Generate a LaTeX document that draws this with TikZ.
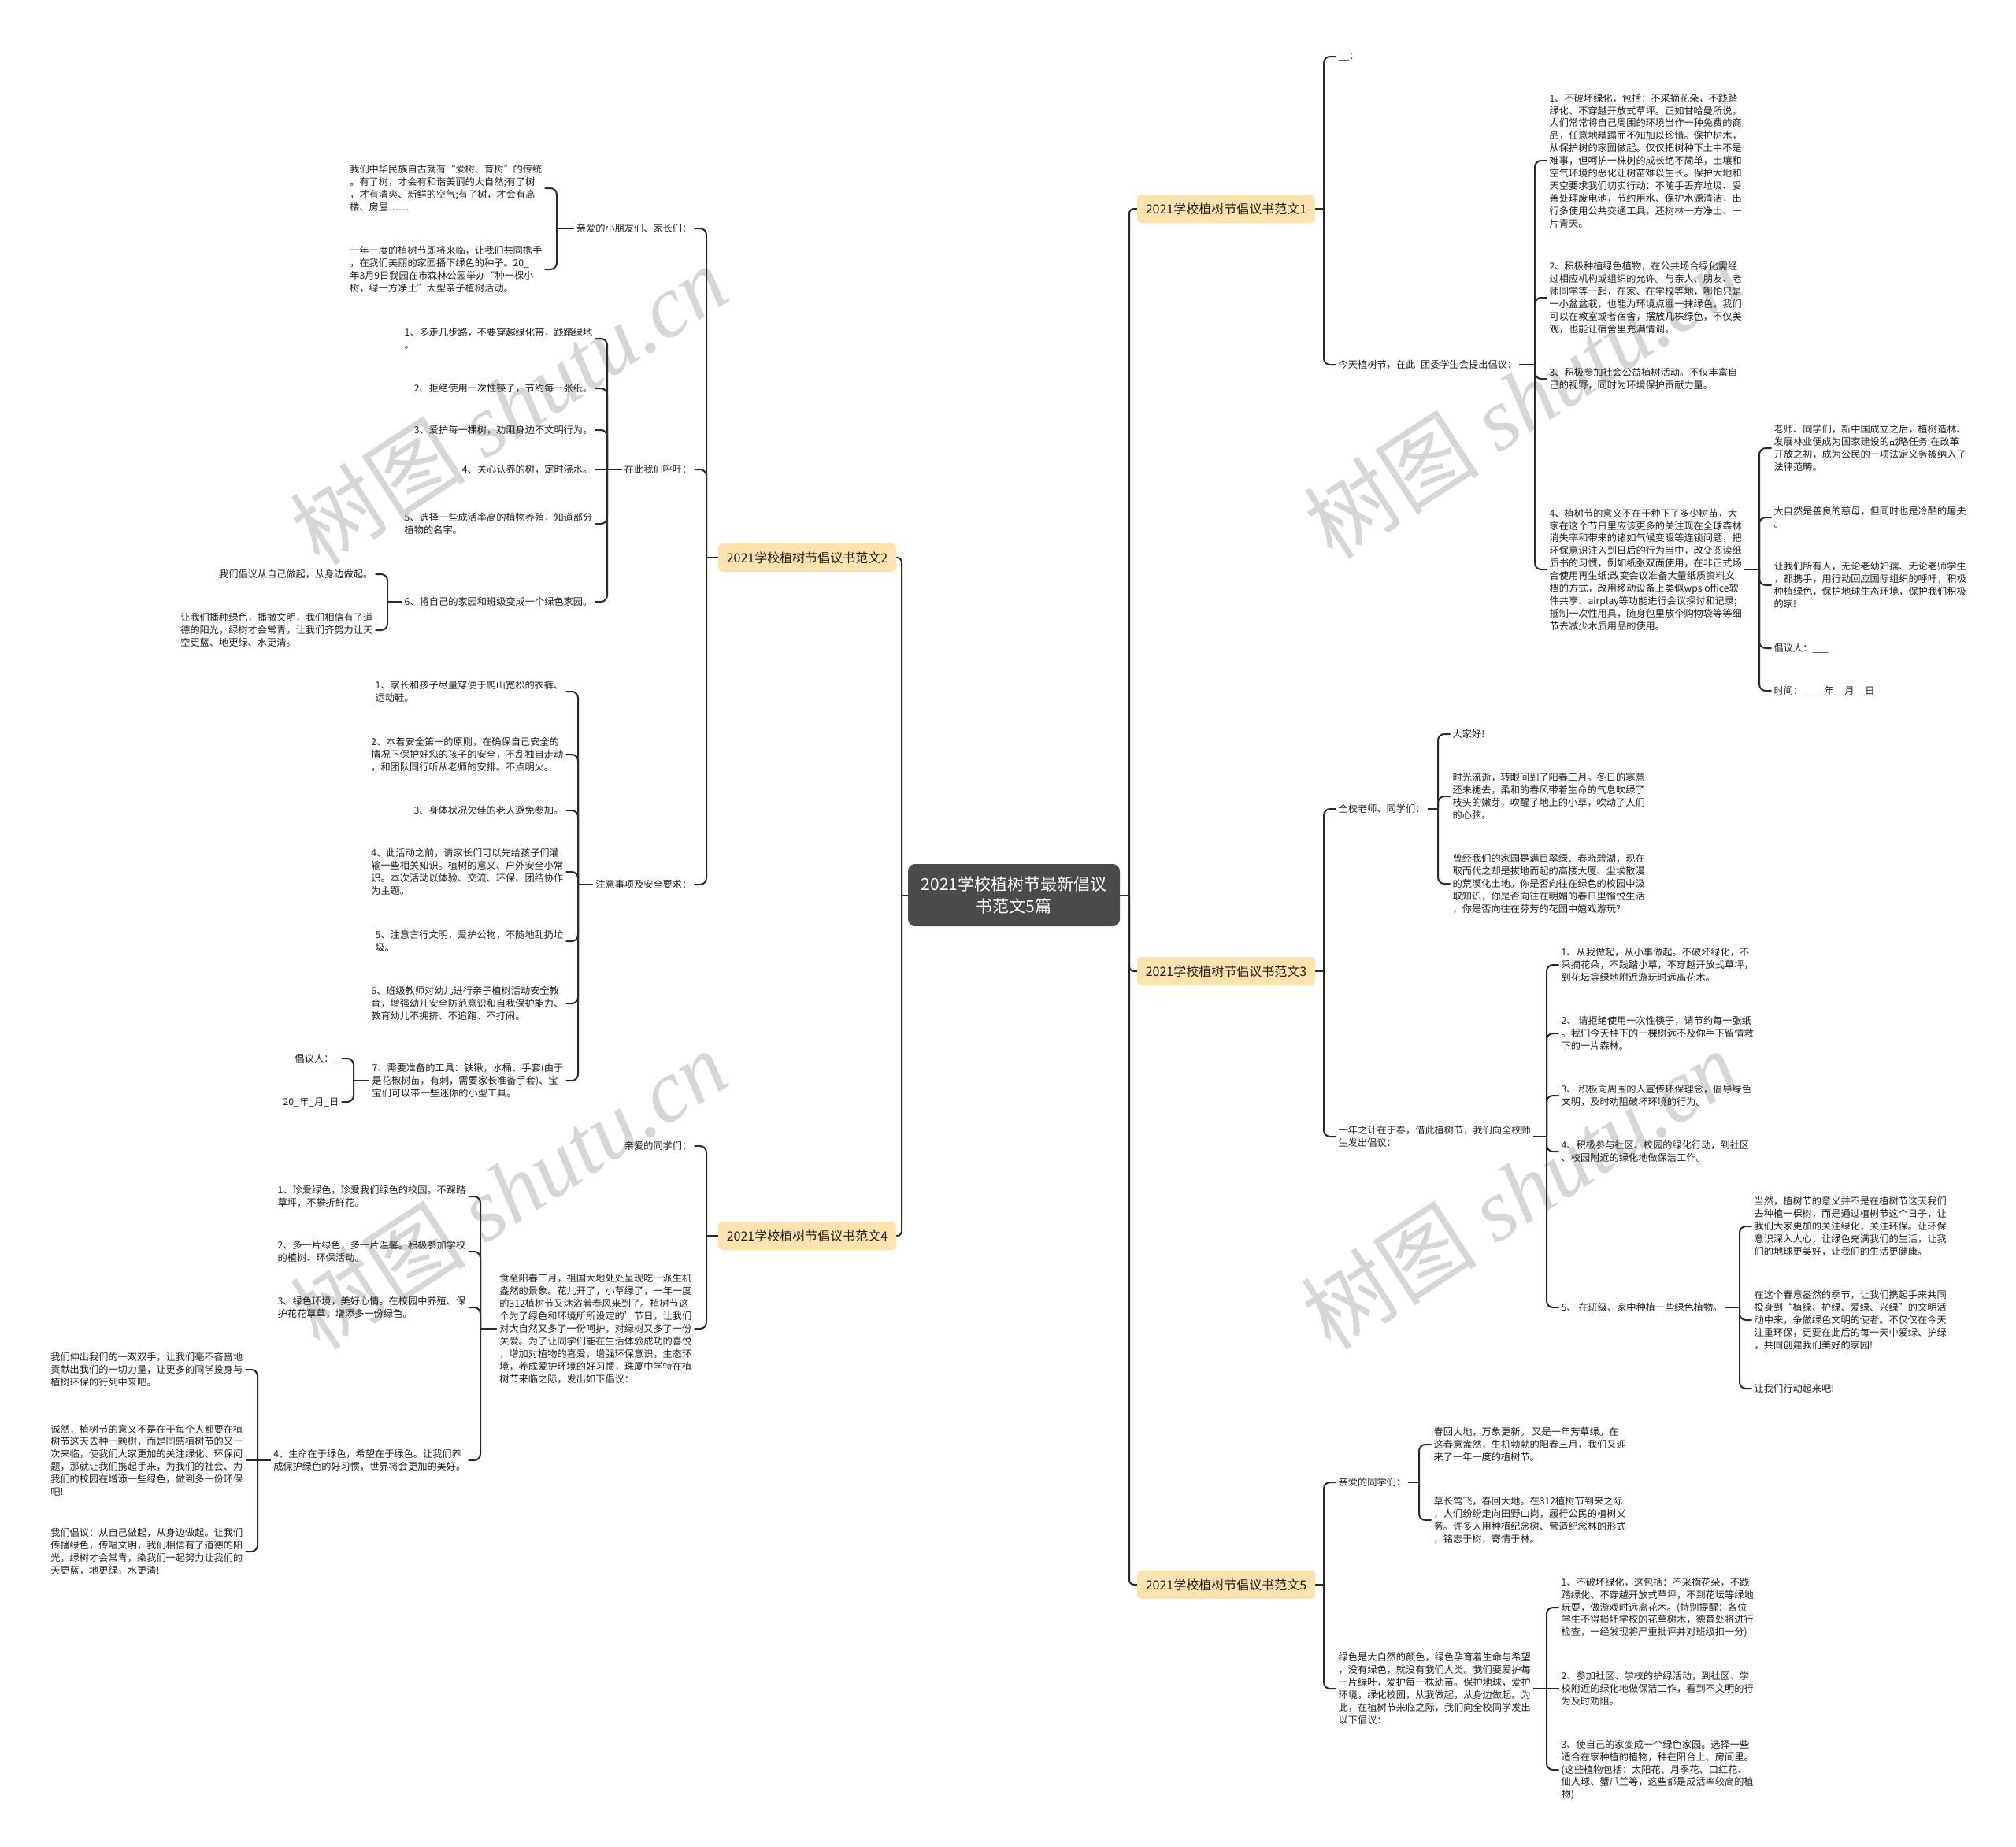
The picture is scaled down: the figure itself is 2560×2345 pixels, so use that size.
\documentclass[tikz,border=0pt]{standalone}
\usepackage{fontspec}
\setmainfont{Noto Sans CJK SC}
\newfontfamily\wmserif{Liberation Serif}
\usetikzlibrary{backgrounds}
\definecolor{brfill}{HTML}{FCE3AE}
\definecolor{rootfill}{HTML}{4B4B4B}
\definecolor{linec}{HTML}{2A2A2A}
\definecolor{txtc}{HTML}{1F1F1F}
\definecolor{wmc}{HTML}{D6D6D6}
\tikzset{
 txt/.style={font={\fontsize{12.2}{15.9}\selectfont}, text=txtc, inner xsep=3pt, inner ysep=2pt, align=left},
 rtxt/.style={txt, anchor=west},
 ltxt/.style={txt, anchor=east},
 brnode/.style={fill=brfill, rounded corners=6pt, font={\fontsize{16}{20}\selectfont}, text=txtc, minimum width=226pt, minimum height=36pt, inner sep=0pt},
 rootnode/.style={fill=rootfill, text=white, rounded corners=9pt, font={\fontsize{21}{28}\selectfont}, align=center, minimum width=269pt, minimum height=79pt, inner sep=0pt},
 conn/.style={draw=linec, line width=2pt, rounded corners=8pt},
 rootconn/.style={conn, rounded corners=6pt},
 wm/.style={text=wmc, rotate=33, inner sep=0pt, font={\fontsize{112}{112}\selectfont}}
}
\newcommand\kidR[2]{\draw[conn] (#1) |- (#2.west);}
\newcommand\kidL[2]{\draw[conn] (#1) |- (#2.east);}
\newcommand\flatR[2]{\draw[conn] (#1) -- (#2.west);}
\newcommand\flatL[2]{\draw[conn] (#1) -- (#2.east);}
\newcommand\stubR[2]{\draw[conn] (#1.east) -- (#2);}
\newcommand\stubL[2]{\draw[conn] (#1.west) -- (#2);}
\begin{document}
\begin{tikzpicture}[x=1pt,y=-1pt]
\useasboundingbox (0,0) rectangle (2560,2345);

% ---------- root and branches ----------
\node[rootnode] (root) at (1287.5,1136.5) {2021学校植树节最新倡议\\书范文5篇};
\node[brnode] (b1) at (1557,265) {2021学校植树节倡议书范文1};
\node[brnode] (b3) at (1557,1233) {2021学校植树节倡议书范文3};
\node[brnode] (b5) at (1557,2012) {2021学校植树节倡议书范文5};
\node[brnode] (b2) at (1025,708) {2021学校植树节倡议书范文2};
\node[brnode] (b4) at (1025,1569) {2021学校植树节倡议书范文4};

% ---------- bracket coordinates ----------
\coordinate (kR0) at (1434,1136.5);
\coordinate (kL0) at (1145,1136.5);
\coordinate (k1) at (1681,265);
\coordinate (k1b) at (1949,463);
\coordinate (k1b4) at (2234,723);
\coordinate (k3) at (1681,1233);
\coordinate (k3a) at (1826,1027);
\coordinate (k3b) at (1964,1443);
\coordinate (k3b5) at (2209,1660);
\coordinate (k5) at (1681,2012);
\coordinate (k5a) at (1802,1882);
\coordinate (k5b) at (1964,2144);
\coordinate (k2) at (897,708);
\coordinate (k2a) at (707,290);
\coordinate (k2b) at (771,596);
\coordinate (k2b6) at (492,764);
\coordinate (k2c) at (734,1123);
\coordinate (k2c7) at (449,1372);
\coordinate (k4) at (897,1569);
\coordinate (k4b) at (610,1687);
\coordinate (k4b4) at (327,1854);

% ---------- branch 1 ----------
\node[rtxt] (n1a) at (1696.5,72) {\_\_：};
\node[rtxt] (n1b) at (1696.5,463) {今天植树节，在此\_团委学生会提出倡议：};
\node[rtxt] (r1) at (1964.5,204) {1、不破坏绿化，包括：不采摘花朵，不践踏\\绿化、不穿越开放式草坪。正如甘哈曼所说，\\人们常常将自己周围的环境当作一种免费的商\\品，任意地糟蹋而不知加以珍惜。保护树木，\\从保护树的家园做起。仅仅把树种下土中不是\\难事，但呵护一株树的成长绝不简单，土壤和\\空气环境的恶化让树苗难以生长。保护大地和\\天空要求我们切实行动：不随手丢弃垃圾、妥\\善处理废电池，节约用水、保护水源清洁，出\\行多使用公共交通工具，还树林一方净土、一\\片青天。};
\node[rtxt] (r2) at (1964.5,378) {2、积极种植绿色植物，在公共场合绿化需经\\过相应机构或组织的允许。与亲人、朋友、老\\师同学等一起，在家、在学校等地，哪怕只是\\一小盆盆栽，也能为环境点缀一抹绿色。我们\\可以在教室或者宿舍，摆放几株绿色，不仅美\\观，也能让宿舍里充满情调。};
\node[rtxt] (r3) at (1964.5,481) {3、积极参加社会公益植树活动。不仅丰富自\\己的视野，同时为环境保护贡献力量。};
\node[rtxt] (r4) at (1964.5,723) {4、植树节的意义不在于种下了多少树苗，大\\家在这个节日里应该更多的关注现在全球森林\\消失率和带来的诸如气候变暖等连锁问题，把\\环保意识注入到日后的行为当中，改变阅读纸\\质书的习惯，例如纸张双面使用，在非正式场\\合使用再生纸;改变会议准备大量纸质资料文\\档的方式，改用移动设备上类似wps office软\\件共享、airplay等功能进行会议探讨和记录;\\抵制一次性用具，随身包里放个购物袋等等细\\节去减少木质用品的使用。};
\node[rtxt] (r4a) at (2249.5,569) {老师、同学们，新中国成立之后，植树造林、\\发展林业便成为国家建设的战略任务;在改革\\开放之初，成为公民的一项法定义务被纳入了\\法律范畴。};
\node[rtxt] (r4b) at (2249.5,657) {大自然是善良的慈母，但同时也是冷酷的屠夫\\。};
\node[rtxt] (r4c) at (2249.5,743) {让我们所有人，无论老幼妇孺、无论老师学生\\，都携手，用行动回应国际组织的呼吁，积极\\种植绿色，保护地球生态环境，保护我们积极\\的家!};
\node[rtxt] (r4d) at (2249.5,823) {倡议人：\_\_\_};
\node[rtxt] (r4e) at (2249.5,877) {时间：\_\_\_\_年\_\_月\_\_日};

% ---------- branch 3 ----------
\node[rtxt] (n3a) at (1696.5,1027) {全校老师、同学们：};
\node[rtxt] (n3a1) at (1841.5,932) {大家好!};
\node[rtxt] (n3a2) at (1841.5,1011) {时光流逝，转眼间到了阳春三月。冬日的寒意\\还未褪去，柔和的春风带着生命的气息吹绿了\\枝头的嫩芽，吹醒了地上的小草，吹动了人们\\的心弦。};
\node[rtxt] (n3a3) at (1841.5,1122) {曾经我们的家园是满目翠绿、春晓碧湖，现在\\取而代之却是拔地而起的高楼大厦、尘埃散漫\\的荒漠化土地。你是否向往在绿色的校园中汲\\取知识，你是否向往在明媚的春日里愉悦生活\\，你是否向往在芬芳的花园中嬉戏游玩?};
\node[rtxt] (n3b) at (1696.5,1443) {一年之计在于春，借此植树节，我们向全校师\\生发出倡议：};
\node[rtxt] (n3b1) at (1979.5,1225) {1、从我做起，从小事做起。不破坏绿化，不\\采摘花朵，不践踏小草，不穿越开放式草坪，\\到花坛等绿地附近游玩时远离花木。};
\node[rtxt] (n3b2) at (1979.5,1312) {2、 请拒绝使用一次性筷子，请节约每一张纸\\。我们今天种下的一棵树远不及你手下留情救\\下的一片森林。};
\node[rtxt] (n3b3) at (1979.5,1391) {3、 积极向周围的人宣传环保理念，倡导绿色\\文明，及时劝阻破坏环境的行为。};
\node[rtxt] (n3b4) at (1979.5,1462) {4、积极参与社区、校园的绿化行动，到社区\\、校园附近的绿化地做保洁工作。};
\node[rtxt] (n3b5) at (1979.5,1660) {5、 在班级、家中种植一些绿色植物。};
\node[rtxt] (n3b5a) at (2224.5,1557) {当然，植树节的意义并不是在植树节这天我们\\去种植一棵树，而是通过植树节这个日子，让\\我们大家更加的关注绿化，关注环保。让环保\\意识深入人心，让绿色充满我们的生活，让我\\们的地球更美好，让我们的生活更健康。};
\node[rtxt] (n3b5b) at (2224.5,1676) {在这个春意盎然的季节，让我们携起手来共同\\投身到“植绿、护绿、爱绿、兴绿”的文明活\\动中来，争做绿色文明的使者。不仅仅在今天\\注重环保，更要在此后的每一天中爱绿、护绿\\，共同创建我们美好的家园!};
\node[rtxt] (n3b5c) at (2224.5,1763) {让我们行动起来吧!};

% ---------- branch 5 ----------
\node[rtxt] (n5a) at (1696.5,1882) {亲爱的同学们：};
\node[rtxt] (n5a1) at (1817.5,1834) {春回大地，万象更新。 又是一年芳草绿。在\\这春意盎然，生机勃勃的阳春三月，我们又迎\\来了一年一度的植树节。};
\node[rtxt] (n5a2) at (1817.5,1930) {草长莺飞，春回大地。在312植树节到来之际\\，人们纷纷走向田野山岗，履行公民的植树义\\务。许多人用种植纪念树、营造纪念林的形式\\，铭志于树，寄情于林。};
\node[rtxt] (n5b) at (1696.5,2144) {绿色是大自然的颜色，绿色孕育着生命与希望\\，没有绿色，就没有我们人类。我们要爱护每\\一片绿叶，爱护每一株幼苗。保护地球，爱护\\环境，绿化校园，从我做起，从身边做起。为\\此，在植树节来临之际，我们向全校同学发出\\以下倡议：};
\node[rtxt] (n5b1) at (1979.5,2041) {1、不破坏绿化，这包括：不采摘花朵，不践\\踏绿化、不穿越开放式草坪，不到花坛等绿地\\玩耍，做游戏时远离花木。(特别提醒：各位\\学生不得损坏学校的花草树木，德育处将进行\\检查，一经发现将严重批评并对班级扣一分)};
\node[rtxt] (n5b2) at (1979.5,2144) {2、参加社区、学校的护绿活动，到社区、学\\校附近的绿化地做保洁工作，看到不文明的行\\为及时劝阻。};
\node[rtxt] (n5b3) at (1979.5,2247) {3、使自己的家变成一个绿色家园。选择一些\\适合在家种植的植物，种在阳台上、房间里。\\(这些植物包括：太阳花、月季花、口红花、\\仙人球、蟹爪兰等，这些都是成活率较高的植\\物)};

% ---------- branch 2 ----------
\node[ltxt] (n2a) at (881.5,290) {亲爱的小朋友们、家长们：};
\node[ltxt] (n2a1) at (691.5,239) {我们中华民族自古就有“爱树、育树”的传统\\。有了树，才会有和谐美丽的大自然;有了树\\，才有清爽、新鲜的空气;有了树，才会有高\\楼、房屋……};
\node[ltxt] (n2a2) at (691.5,342) {一年一度的植树节即将来临，让我们共同携手\\，在我们美丽的家园播下绿色的种子。20\_\\年3月9日我园在市森林公园举办“种一棵小\\树，绿一方净土”大型亲子植树活动。};
\node[ltxt] (n2b) at (881.5,596) {在此我们呼吁：};
\node[ltxt] (n2b1) at (755.5,430) {1、多走几步路，不要穿越绿化带，践踏绿地\\。};
\node[ltxt] (n2b2) at (755.5,493) {2、拒绝使用一次性筷子，节约每一张纸。};
\node[ltxt] (n2b3) at (755.5,546) {3、爱护每一棵树，劝阻身边不文明行为。};
\node[ltxt] (n2b4) at (755.5,596) {4、关心认养的树，定时浇水。};
\node[ltxt] (n2b5) at (755.5,665) {5、选择一些成活率高的植物养殖，知道部分\\植物的名字。};
\node[ltxt] (n2b6) at (755.5,764) {6、将自己的家园和班级变成一个绿色家园。};
\node[ltxt] (n2b6a) at (476.5,729) {我们倡议从自己做起，从身边做起。};
\node[ltxt] (n2b6b) at (476.5,800) {让我们播种绿色，播撒文明，我们相信有了道\\德的阳光，绿树才会常青，让我们齐努力让天\\空更蓝、地更绿、水更清。};
\node[ltxt] (n2c) at (881.5,1123) {注意事项及安全要求：};
\node[ltxt] (n2c1) at (718.5,878) {1、家长和孩子尽量穿便于爬山宽松的衣裤、\\运动鞋。};
\node[ltxt] (n2c2) at (718.5,958) {2、本着安全第一的原则，在确保自己安全的\\情况下保护好您的孩子的安全，不乱独自走动\\，和团队同行听从老师的安排。不点明火。};
\node[ltxt] (n2c3) at (718.5,1029) {3、身体状况欠佳的老人避免参加。};
\node[ltxt] (n2c4) at (718.5,1107) {4、此活动之前，请家长们可以先给孩子们灌\\输一些相关知识。植树的意义、户外安全小常\\识。本次活动以体验、交流、环保、团结协作\\为主题。};
\node[ltxt] (n2c5) at (718.5,1195) {5、注意言行文明，爱护公物，不随地乱扔垃\\圾。};
\node[ltxt] (n2c6) at (718.5,1274) {6、班级教师对幼儿进行亲子植树活动安全教\\育，增强幼儿安全防范意识和自我保护能力、\\教育幼儿不拥挤、不追跑、不打闹。};
\node[ltxt] (n2c7) at (718.5,1372) {7、需要准备的工具：铁锹，水桶、手套(由于\\是花椒树苗，有刺，需要家长准备手套)、宝\\宝们可以带一些迷你的小型工具。};
\node[ltxt] (n2c7a) at (433.5,1344) {倡议人：\_};
\node[ltxt] (n2c7b) at (433.5,1399) {20\_年\_月\_日};

% ---------- branch 4 ----------
\node[ltxt] (n4a) at (881.5,1455) {亲爱的同学们：};
\node[ltxt] (n4b) at (881.5,1687) {食至阳春三月，祖国大地处处呈现吃一派生机\\盎然的景象。花儿开了，小草绿了，一年一度\\的312植树节又沐浴着春风来到了。植树节这\\个为了绿色和环境所所设定的'节日，让我们\\对大自然又多了一份呵护，对绿树又多了一份\\关爱。为了让同学们能在生活体验成功的喜悦\\，增加对植物的喜爱，增强环保意识，生态环\\境，养成爱护环境的好习惯，珠厦中学特在植\\树节来临之际，发出如下倡议：};
\node[ltxt] (n4b1) at (594.5,1519) {1、珍爱绿色，珍爱我们绿色的校园。不踩踏\\草坪，不攀折鲜花。};
\node[ltxt] (n4b2) at (594.5,1589) {2、多一片绿色，多一片温馨。积极参加学校\\的植树、环保活动。};
\node[ltxt] (n4b3) at (594.5,1660) {3、绿色环境，美好心情。在校园中养殖、保\\护花花草草，增添多一份绿色。};
\node[ltxt] (n4b4) at (594.5,1854) {4、生命在于绿色，希望在于绿色。让我们养\\成保护绿色的好习惯，世界将会更加的美好。};
\node[ltxt] (n4b4a) at (311.5,1739) {我们伸出我们的一双双手，让我们毫不吝啬地\\贡献出我们的一切力量，让更多的同学投身与\\植树环保的行列中来吧。};
\node[ltxt] (n4b4b) at (311.5,1854) {诚然，植树节的意义不是在于每个人都要在植\\树节这天去种一颗树，而是同感植树节的又一\\次来临，使我们大家更加的关注绿化、环保问\\题，那就让我们携起手来，为我们的社会、为\\我们的校园在增添一些绿色，做到多一份环保\\吧!};
\node[ltxt] (n4b4c) at (311.5,1970) {我们倡议：从自己做起，从身边做起。让我们\\传播绿色，传唱文明，我们相信有了道德的阳\\光，绿树才会常青，染我们一起努力让我们的\\天更蓝，地更绿，水更清!};

% ---------- background: watermark and connectors ----------
\begin{pgfonlayer}{background}
\fill[white] (0,0) rectangle (2560,2345);
\node[wm] (wm1) at (646,514) {树图 {\wmserif\itshape shutu.cn}};
\node[wm] (wm2) at (1933,506) {树图 {\wmserif\itshape shutu.cn}};
\node[wm] (wm3) at (646,1510) {树图 {\wmserif\itshape shutu.cn}};
\node[wm] (wm4) at (1930,1510) {树图 {\wmserif\itshape shutu.cn}};

% root
\draw[rootconn] (root.east) -- (kR0);
\draw[rootconn] (kR0) |- (b1.west);
\draw[rootconn] (kR0) |- (b3.west);
\draw[rootconn] (kR0) |- (b5.west);
\draw[rootconn] (root.west) -- (kL0);
\draw[rootconn] (kL0) |- (b2.east);
\draw[rootconn] (kL0) |- (b4.east);

% branch 1
\stubR{b1}{k1} \kidR{k1}{n1a} \kidR{k1}{n1b}
\stubR{n1b}{k1b} \kidR{k1b}{r1} \kidR{k1b}{r2} \kidR{k1b}{r3} \kidR{k1b}{r4}
\stubR{r4}{k1b4} \kidR{k1b4}{r4a} \kidR{k1b4}{r4b} \kidR{k1b4}{r4c} \kidR{k1b4}{r4d} \kidR{k1b4}{r4e}
% branch 3
\stubR{b3}{k3} \kidR{k3}{n3a} \kidR{k3}{n3b}
\stubR{n3a}{k3a} \kidR{k3a}{n3a1} \kidR{k3a}{n3a2} \kidR{k3a}{n3a3}
\stubR{n3b}{k3b} \kidR{k3b}{n3b1} \kidR{k3b}{n3b2} \kidR{k3b}{n3b3} \kidR{k3b}{n3b4} \kidR{k3b}{n3b5}
\stubR{n3b5}{k3b5} \kidR{k3b5}{n3b5a} \kidR{k3b5}{n3b5b} \kidR{k3b5}{n3b5c}
% branch 5
\stubR{b5}{k5} \kidR{k5}{n5a} \kidR{k5}{n5b}
\stubR{n5a}{k5a} \kidR{k5a}{n5a1} \kidR{k5a}{n5a2}
\stubR{n5b}{k5b} \kidR{k5b}{n5b1} \flatR{k5b}{n5b2} \kidR{k5b}{n5b3}
% branch 2
\stubL{b2}{k2} \kidL{k2}{n2a} \kidL{k2}{n2b} \kidL{k2}{n2c}
\stubL{n2a}{k2a} \kidL{k2a}{n2a1} \kidL{k2a}{n2a2}
\stubL{n2b}{k2b} \kidL{k2b}{n2b1} \kidL{k2b}{n2b2} \kidL{k2b}{n2b3} \flatL{k2b}{n2b4} \kidL{k2b}{n2b5} \kidL{k2b}{n2b6}
\stubL{n2b6}{k2b6} \kidL{k2b6}{n2b6a} \kidL{k2b6}{n2b6b}
\stubL{n2c}{k2c} \kidL{k2c}{n2c1} \kidL{k2c}{n2c2} \kidL{k2c}{n2c3} \kidL{k2c}{n2c4} \kidL{k2c}{n2c5} \kidL{k2c}{n2c6} \kidL{k2c}{n2c7}
\stubL{n2c7}{k2c7} \kidL{k2c7}{n2c7a} \kidL{k2c7}{n2c7b}
% branch 4
\stubL{b4}{k4} \kidL{k4}{n4a} \kidL{k4}{n4b}
\stubL{n4b}{k4b} \kidL{k4b}{n4b1} \kidL{k4b}{n4b2} \kidL{k4b}{n4b3} \kidL{k4b}{n4b4}
\stubL{n4b4}{k4b4} \kidL{k4b4}{n4b4a} \flatL{k4b4}{n4b4b} \kidL{k4b4}{n4b4c}
\end{pgfonlayer}
\end{tikzpicture}
\end{document}
